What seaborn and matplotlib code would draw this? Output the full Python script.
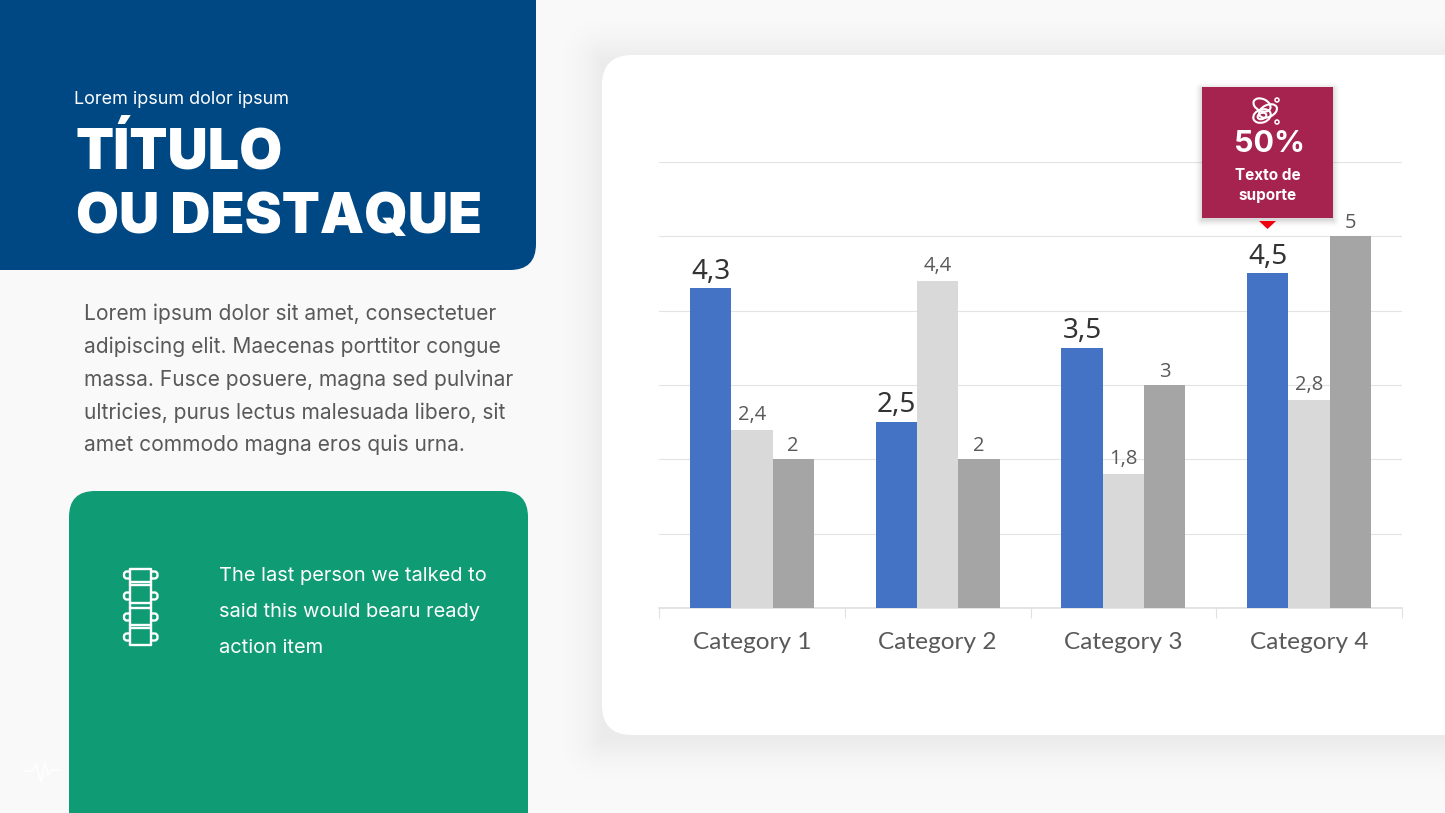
import numpy as np
import pandas as pd
import matplotlib
matplotlib.use("Agg")
import matplotlib.pyplot as plt
import seaborn as sns
from matplotlib.patches import FancyBboxPatch, Rectangle, Polygon, Ellipse, Circle

# --- datos ---
categorias = ["Category 1", "Category 2", "Category 3", "Category 4"]
serie_a = [4.3, 2.5, 3.5, 4.5]
serie_b = [2.4, 4.4, 1.8, 2.8]
serie_c = [2, 2, 3, 5]
etiquetas_a = ["4,3", "2,5", "3,5", "4,5"]
etiquetas_b = ["2,4", "4,4", "1,8", "2,8"]
etiquetas_c = ["2", "2", "3", "5"]

titulo = ["TÍTULO", "OU DESTAQUE"]
parrafo = [
    "Lorem ipsum dolor sit amet, consectetuer",
    "adipiscing elit. Maecenas porttitor congue",
    "massa. Fusce posuere, magna sed pulvinar",
    "ultricies, purus lectus malesuada libero, sit",
    "amet commodo magna eros quis urna.",
]
cita = [
    "The last person we talked to",
    "said this would bearu ready",
    "action item",
]

VERDE = "#0f9b74"

sns.set_theme(style="white")
plt.rcParams["font.family"] = ["Inter", "DejaVu Sans"]

fig = plt.figure(figsize=(14.45, 8.13), dpi=100, facecolor="#f9f9f9")


def capa(zorder):
    # capa a pantalla completa en coordenadas de pixel
    a = fig.add_axes([0, 0, 1, 1], zorder=zorder)
    a.set_xlim(0, 1445)
    a.set_ylim(813, 0)
    a.axis("off")
    return a


def caja(a, x, y, w, h, r, color, **kw):
    p = FancyBboxPatch((x + r, y + r), w - 2 * r, h - 2 * r,
                       boxstyle=f"round,pad={r},rounding_size={r}",
                       fc=color, ec="none", **kw)
    a.add_patch(p)


def sombra(a, x, y, w, h, blur, dy, alpha):
    # sombra difusa: imagen RGBA segun la distancia al rectangulo
    xx, yy = np.meshgrid(np.arange(1445) + 0.5, np.arange(813) + 0.5)
    dx = np.maximum(np.maximum(x - xx, xx - (x + w)), 0)
    dy_ = np.maximum(np.maximum(y + dy - yy, yy - (y + dy + h)), 0)
    d = np.hypot(dx, dy_)
    img = np.zeros((813, 1445, 4))
    img[..., 3] = alpha * np.clip(1 - d / blur, 0, 1) ** 2
    a.imshow(img, extent=(0, 1445, 813, 0), aspect="auto", zorder=0, interpolation="nearest")
    a.set_xlim(0, 1445)
    a.set_ylim(813, 0)


fondo = capa(0)

# --- panel azul ---
caja(fondo, -60, -60, 596, 330, 26, "#004884")
fondo.text(74, 99.5, "Lorem ipsum dolor ipsum", color="white", fontsize=12.95, va="center")
for txt, y in zip(titulo, [152, 218]):
    fondo.text(75.5, y, txt, color="white", fontsize=40.05, fontweight="black", va="center")

# --- parrafo ---
for i, txt in enumerate(parrafo):
    fondo.text(84, 314 + i * 32.8, txt, color="#595959", fontsize=15.12, va="center")

# --- panel verde ---
caja(fondo, 69, 491, 459, 400, 26, VERDE)
for i, txt in enumerate(cita):
    fondo.text(219, 575.5 + i * 36, txt, color="white", fontsize=14.45, va="center")

# icono columna
for y in [575, 596, 617, 637]:
    fondo.add_patch(FancyBboxPatch((126, y - 1.5), 29.5, 3, boxstyle="round,pad=2,rounding_size=3",
                                   fc=VERDE, ec="white", lw=1.7))
fondo.add_patch(Rectangle((130, 569), 21, 76, fc=VERDE, ec="none", zorder=2))
fondo.plot([130, 130], [569, 645], color="white", lw=1.7, zorder=3)
fondo.plot([151, 151], [569, 645], color="white", lw=1.7, zorder=3)
for y in [569, 582, 585, 603, 608, 625, 628, 645]:
    fondo.plot([130, 151], [y, y], color="white", lw=1.7, zorder=3)

# icono pulso, casi invisible
fondo.plot([25, 33, 36, 41, 45, 48, 52, 60], [771, 771, 764, 782, 762, 775, 770, 770],
           color="white", lw=1.2, alpha=0.9)

# --- tarjeta blanca con sombra ---
sombra(fondo, 602, 55, 950, 680, 55, 5, 0.055)
caja(fondo, 602, 55, 950, 680, 30, "white")

# --- grafico ---
df = pd.DataFrame({
    "categoria": categorias * 3,
    "serie": ["A"] * 4 + ["B"] * 4 + ["C"] * 4,
    "valor": serie_a + serie_b + serie_c,
})

ax = fig.add_axes([659 / 1445, (813 - 608) / 813, (1402 - 659) / 1445, (608 - 162) / 813], zorder=1)
ax.patch.set_alpha(0)
sns.barplot(data=df, x="categoria", y="valor", hue="serie", ax=ax,
            palette=["#4472c4", "#d9d9d9", "#a5a5a5"], saturation=1,
            width=2 / 3, gap=0, legend=False, zorder=3, linewidth=0)
ax.set_xlim(-0.5, 3.5)
ax.set_ylim(0, 6)
ax.set_xlabel("")
ax.set_ylabel("")
ax.set_yticks(range(7))
ax.set_yticklabels([])
ax.tick_params(axis="y", length=0)
ax.grid(axis="y", color="#e3e3e3", lw=0.8)
ax.set_axisbelow(True)
for lado in ["top", "left", "right"]:
    ax.spines[lado].set_visible(False)
ax.spines["bottom"].set_color("#e0e0e0")
ax.set_xticks(np.arange(-0.5, 4), minor=True)
ax.tick_params(axis="x", which="minor", length=7.5, color="#e0e0e0", width=0.8, bottom=True)
ax.tick_params(axis="x", which="major", length=0, pad=17.5)
for t in ax.get_xticklabels():
    t.set_fontfamily("Lato")
    t.set_fontsize(17.6)
    t.set_color("#595959")

ax.bar_label(ax.containers[0], labels=etiquetas_a, padding=2, fontsize=20,
             color="#333333", family="Noto Sans", fontweight="medium")
ax.bar_label(ax.containers[1], labels=etiquetas_b, padding=3.5, fontsize=14.5,
             color="#595959", family="Open Sans")
ax.bar_label(ax.containers[2], labels=etiquetas_c, padding=2.5, fontsize=14.5,
             color="#595959", family="Open Sans")

# --- etiqueta destacada ---
frente = capa(2)
sombra(frente, 1202, 87, 131, 131, 9, 3, 0.15)
frente.add_patch(Rectangle((1202, 87), 131, 131, fc="#a62350", ec="none"))
frente.add_patch(Polygon([[1259, 221], [1276, 221], [1267.5, 229]], fc="#f0000f", ec="none"))
frente.text(1269, 144.5, "50%", color="white", fontsize=22, fontweight="bold", ha="center", va="center")
frente.text(1267.5, 175, "Texto de", color="white", fontsize=11, fontweight="bold", ha="center", va="center")
frente.text(1267.5, 195.5, "suporte", color="white", fontsize=11, fontweight="bold", ha="center", va="center")

# icono nudos
for cx, cy, w, h, ang in [(1262, 105, 18, 12, 25), (1268, 111, 19, 12, -25),
                          (1262, 116, 18, 13, -20), (1262, 116, 9, 6, -20)]:
    frente.add_patch(Ellipse((cx, cy), w, h, angle=ang, fc="none", ec="white", lw=1.5))
frente.add_patch(Circle((1277, 100), 2, fc="none", ec="white", lw=1.1))
frente.add_patch(Circle((1277, 122), 2, fc="none", ec="white", lw=1.1))

fig.savefig("out.png", dpi=100, facecolor=fig.get_facecolor())
